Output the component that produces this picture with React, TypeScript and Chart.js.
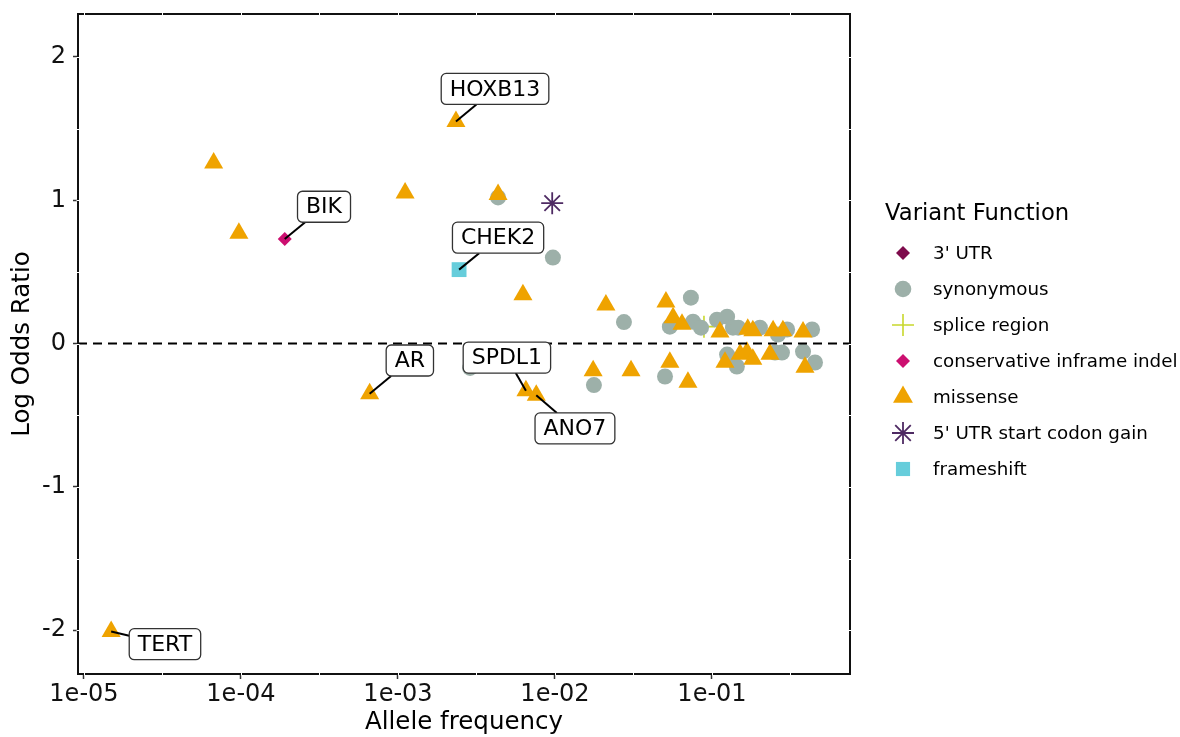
import React, { useEffect, useRef } from 'react';
import { Chart, registerables } from 'chart.js';

Chart.register(...registerables);

// ---------- data ----------
const x3UTR: number[] = [];
const y3UTR: number[] = [];

const xSynonymous = [2.88e-3, 4.34e-3, 9.7e-3, 0.0177, 0.0275, 0.0502, 0.0539, 0.0734, 0.0757, 0.0851, 0.1076, 0.1248, 0.1248, 0.136, 0.144, 0.147, 0.202, 0.252, 0.263, 0.279, 0.301, 0.38, 0.434, 0.453];
const ySynonymous = [-0.17, 1.02, 0.6, -0.29, 0.15, -0.23, 0.118, 0.32, 0.153, 0.111, 0.167, 0.188, -0.077, 0.111, -0.16, 0.111, 0.111, -0.063, 0.063, -0.063, 0.098, -0.056, 0.098, -0.132];

const xSplice = [0.0889];
const ySplice = [0.118];

const xIndel = [1.9e-4];
const yIndel = [0.73];

const xMissense = [1.49e-5, 6.7e-5, 9.7e-5, 6.6e-4, 1.11e-3, 2.34e-3, 4.34e-3, 6.25e-3, 6.53e-3, 7.6e-3, 0.0175, 0.0211, 0.0305, 0.0509, 0.0539, 0.0565, 0.0644, 0.0703, 0.1124, 0.121, 0.151, 0.167, 0.169, 0.182, 0.182, 0.234, 0.245, 0.283, 0.38, 0.391];
const yMissense = [-2.01, 1.26, 0.77, -0.35, 1.05, 1.55, 1.04, 0.34, -0.33, -0.36, -0.19, 0.27, -0.19, 0.29, -0.13, 0.18, 0.135, -0.27, 0.08, -0.13, -0.075, -0.06, 0.1, 0.09, -0.11, -0.075, 0.09, 0.09, 0.08, -0.165];

const xStartGain = [9.6e-3];
const yStartGain = [0.98];

const xFrameshift = [2.45e-3];
const yFrameshift = [0.516];

const seriesNames = ["3' UTR", 'synonymous', 'splice region', 'conservative inframe indel', 'missense', "5' UTR start codon gain", 'frameshift'];

const labelGenes = ['HOXB13', 'BIK', 'CHEK2', 'AR', 'SPDL1', 'ANO7', 'TERT'];
const labelPointX = [2.34e-3, 1.9e-4, 2.45e-3, 6.6e-4, 6.53e-3, 7.6e-3, 1.49e-5];
const labelPointY = [1.55, 0.73, 0.516, -0.35, -0.33, -0.36, -2.01];
const labelBoxX = [4.15e-3, 3.38e-4, 4.34e-3, 1.19e-3, 4.94e-3, 0.0134, 3.28e-5];
const labelBoxY = [1.777, 0.955, 0.739, -0.118, -0.098, -0.592, -2.098];

const xTickValues = [1e-5, 1e-4, 1e-3, 1e-2, 1e-1];
const yTickValues = [-2, -1, 0, 1, 2];

// ---------- styles ----------
const FONT = 'DejaVu Sans';
const COLORS = {
  utr3: '#7E0B4C',
  syn: '#9DB0A9',
  splice: '#C8D82C',
  indel: '#CC0F70',
  missense: '#EFA300',
  startGain: '#4E2A63',
  frameshift: '#66CDDB',
};

type Marker = { style: string; r: number; fill: string; stroke: string; lw: number };
const legendMarkers: Marker[] = [
  { style: 'rectRot', r: 7, fill: COLORS.utr3, stroke: COLORS.utr3, lw: 0 },
  { style: 'circle', r: 8.3, fill: COLORS.syn, stroke: COLORS.syn, lw: 0 },
  { style: 'cross', r: 11, fill: COLORS.splice, stroke: COLORS.splice, lw: 1.6 },
  { style: 'rectRot', r: 7, fill: COLORS.indel, stroke: COLORS.indel, lw: 0 },
  { style: 'triangle', r: 11.5, fill: COLORS.missense, stroke: COLORS.missense, lw: 0 },
  { style: 'star', r: 11, fill: COLORS.startGain, stroke: COLORS.startGain, lw: 1.8 },
  { style: 'rect', r: 10, fill: COLORS.frameshift, stroke: COLORS.frameshift, lw: 0 },
];

function drawMarker(ctx: CanvasRenderingContext2D, m: Marker, x: number, y: number) {
  ctx.save();
  ctx.fillStyle = m.fill;
  ctx.strokeStyle = m.stroke;
  ctx.lineWidth = m.lw;
  ctx.beginPath();
  const r = m.r;
  switch (m.style) {
    case 'circle':
      ctx.arc(x, y, r, 0, Math.PI * 2);
      ctx.fill();
      break;
    case 'rectRot':
      ctx.moveTo(x, y - r);
      ctx.lineTo(x + r, y);
      ctx.lineTo(x, y + r);
      ctx.lineTo(x - r, y);
      ctx.closePath();
      ctx.fill();
      break;
    case 'rect': {
      const s = r * Math.SQRT1_2;
      ctx.rect(x - s, y - s, 2 * s, 2 * s);
      ctx.fill();
      break;
    }
    case 'triangle':
      for (let k = 0; k < 3; k++) {
        const a = -Math.PI / 2 + (k * 2 * Math.PI) / 3;
        const px = x + Math.cos(a) * r;
        const py = y + Math.sin(a) * r;
        if (k === 0) ctx.moveTo(px, py);
        else ctx.lineTo(px, py);
      }
      ctx.closePath();
      ctx.fill();
      break;
    case 'cross':
      ctx.moveTo(x - r, y);
      ctx.lineTo(x + r, y);
      ctx.moveTo(x, y - r);
      ctx.lineTo(x, y + r);
      ctx.stroke();
      break;
    case 'star': {
      ctx.moveTo(x - r, y);
      ctx.lineTo(x + r, y);
      ctx.moveTo(x, y - r);
      ctx.lineTo(x, y + r);
      const d = r * Math.SQRT1_2;
      ctx.moveTo(x - d, y - d);
      ctx.lineTo(x + d, y + d);
      ctx.moveTo(x - d, y + d);
      ctx.lineTo(x + d, y - d);
      ctx.stroke();
      break;
    }
  }
  ctx.restore();
}

const toPts = (xs: number[], ys: number[]) => xs.map((x, i) => ({ x, y: ys[i] }));

const fmtExp = (v: number) => {
  const e = Math.round(Math.log10(v));
  const abs = Math.abs(e);
  return '1e' + (e < 0 ? '-' : '+') + String(abs).padStart(2, '0');
};

const decorPlugin = {
  id: 'decor',
  afterDatasetsDraw(chart: any) {
    const { ctx, chartArea, scales } = chart;
    const { left, right } = chartArea;
    const xs = scales.x;
    const ys = scales.y;
    // zero reference line
    ctx.save();
    ctx.strokeStyle = '#000';
    ctx.lineWidth = 2;
    ctx.setLineDash([9, 6]);
    const y0 = ys.getPixelForValue(0);
    ctx.beginPath();
    ctx.moveTo(left, y0);
    ctx.lineTo(right, y0);
    ctx.stroke();
    ctx.restore();

    // gene labels
    ctx.save();
    ctx.font = `22px "${FONT}"`;
    for (let i = 0; i < labelGenes.length; i++) {
      const px = xs.getPixelForValue(labelPointX[i]);
      const py = ys.getPixelForValue(labelPointY[i]);
      const bx = xs.getPixelForValue(labelBoxX[i]);
      const by = ys.getPixelForValue(labelBoxY[i]);
      const tw = ctx.measureText(labelGenes[i]).width;
      const hw = tw / 2 + 8.5;
      const hh = 15.5;
      const dx = px - bx;
      const dy = py - by;
      const t = Math.min(dx !== 0 ? hw / Math.abs(dx) : Infinity, dy !== 0 ? hh / Math.abs(dy) : Infinity);
      if (t < 1) {
        ctx.beginPath();
        ctx.strokeStyle = '#000';
        ctx.lineWidth = 2;
        ctx.moveTo(px, py);
        ctx.lineTo(bx + dx * t, by + dy * t);
        ctx.stroke();
      }
      ctx.beginPath();
      ctx.fillStyle = '#fff';
      ctx.strokeStyle = '#333';
      ctx.lineWidth = 1.3;
      (ctx as any).roundRect(bx - hw, by - hh, hw * 2, hh * 2, 5);
      ctx.fill();
      ctx.stroke();
      ctx.fillStyle = '#000';
      ctx.textAlign = 'center';
      ctx.textBaseline = 'middle';
      ctx.fillText(labelGenes[i], bx, by + 1);
    }
    ctx.restore();
  },
  afterDraw(chart: any) {
    const { ctx, chartArea, scales } = chart;
    const { left, right, top, bottom } = chartArea;
    const xs = scales.x;
    const ys = scales.y;
    ctx.save();
    // panel border
    ctx.strokeStyle = '#111';
    ctx.lineWidth = 2;
    ctx.strokeRect(left, top, right - left, bottom - top);
    // white notches at half steps
    ctx.strokeStyle = '#fff';
    ctx.lineWidth = 1;
    const lo = Math.log10(xs.min);
    const hi = Math.log10(xs.max);
    for (let e = Math.ceil(lo * 2) / 2; e <= hi; e += 0.5) {
      const px = Math.round(xs.getPixelForValue(Math.pow(10, e))) + 0.5;
      ctx.beginPath();
      ctx.moveTo(px, top - 1.5);
      ctx.lineTo(px, top + 1.5);
      ctx.moveTo(px, bottom - 1.5);
      ctx.lineTo(px, bottom + 1.5);
      ctx.stroke();
    }
    for (let v = Math.ceil(ys.min * 2) / 2; v <= ys.max; v += 0.5) {
      const py = Math.round(ys.getPixelForValue(v)) + 0.5;
      ctx.beginPath();
      ctx.moveTo(left - 1.5, py);
      ctx.lineTo(left + 1.5, py);
      ctx.moveTo(right - 1.5, py);
      ctx.lineTo(right + 1.5, py);
      ctx.stroke();
    }
    // legend
    const lx = right + 35;
    ctx.fillStyle = '#000';
    ctx.textAlign = 'left';
    ctx.textBaseline = 'middle';
    ctx.font = `22.7px "${FONT}"`;
    ctx.fillText('Variant Function', lx, 214);
    ctx.font = `18.3px "${FONT}"`;
    for (let i = 0; i < seriesNames.length; i++) {
      const iy = 253 + 36 * i;
      drawMarker(ctx, legendMarkers[i], right + 53, iy);
      ctx.fillStyle = '#000';
      ctx.fillText(seriesNames[i], right + 83, iy + 1);
    }
    ctx.restore();
  },
};

export default function App() {
  const ref = useRef<HTMLCanvasElement | null>(null);

  useEffect(() => {
    document.body.style.margin = '0';
    const canvas = ref.current;
    if (!canvas) return;
    const tickFont = { family: FONT, size: 24 };
    const titleFont = { family: FONT, size: 24.5 };
    const chart = new Chart(canvas, {
      type: 'scatter',
      data: {
        datasets: [
          { label: seriesNames[0], data: toPts(x3UTR, y3UTR), pointStyle: 'rectRot', pointRadius: 7, backgroundColor: COLORS.utr3, borderColor: COLORS.utr3, borderWidth: 0, order: 0 },
          { label: seriesNames[1], data: toPts(xSynonymous, ySynonymous), pointStyle: 'circle', pointRadius: 8, backgroundColor: COLORS.syn, borderColor: COLORS.syn, borderWidth: 0, order: 2 },
          { label: seriesNames[2], data: toPts(xSplice, ySplice), pointStyle: 'cross', pointRadius: 11, backgroundColor: COLORS.splice, borderColor: COLORS.splice, borderWidth: 1.6, order: 3 },
          { label: seriesNames[3], data: toPts(xIndel, yIndel), pointStyle: 'rectRot', pointRadius: 7, backgroundColor: COLORS.indel, borderColor: COLORS.indel, borderWidth: 0, order: 0 },
          { label: seriesNames[4], data: toPts(xMissense, yMissense), pointStyle: 'triangle', pointRadius: 11, backgroundColor: COLORS.missense, borderColor: COLORS.missense, borderWidth: 0, order: 1 },
          { label: seriesNames[5], data: toPts(xStartGain, yStartGain), pointStyle: 'star', pointRadius: 11, backgroundColor: COLORS.startGain, borderColor: COLORS.startGain, borderWidth: 1.8, order: 0 },
          { label: seriesNames[6], data: toPts(xFrameshift, yFrameshift), pointStyle: 'rect', pointRadius: 10.5, backgroundColor: COLORS.frameshift, borderColor: COLORS.frameshift, borderWidth: 0, order: 0 },
        ] as any,
      },
      options: {
        animation: false,
        responsive: false,
        events: [],
        layout: { padding: { top: 14, right: 330, bottom: 0, left: 0 } },
        plugins: { legend: { display: false }, tooltip: { enabled: false } },
        scales: {
          x: {
            type: 'logarithmic',
            min: Math.pow(10, -5.038),
            max: Math.pow(10, -0.121),
            afterBuildTicks: (s: any) => {
              s.ticks = xTickValues.map((v) => ({ value: v }));
            },
            afterFit: (s: any) => {
              s.height = 63;
              s.paddingLeft = 0;
              s.paddingRight = 0;
            },
            ticks: {
              callback: (v: any) => fmtExp(Number(v)),
              font: tickFont,
              color: '#111',
              padding: 1,
              maxRotation: 0,
              autoSkip: false,
            },
            grid: { drawOnChartArea: false, drawTicks: true, tickLength: 5, tickColor: '#333', tickWidth: 1.5 },
            border: { display: false },
            title: { display: true, text: 'Allele frequency', font: titleFont, color: '#000', padding: { top: 0, bottom: 0 } },
          },
          y: {
            type: 'linear',
            min: -2.306,
            max: 2.3,
            afterBuildTicks: (s: any) => {
              s.ticks = yTickValues.map((v) => ({ value: v }));
            },
            afterFit: (s: any) => {
              s.width = 78;
              s.paddingTop = 0;
              s.paddingBottom = 0;
            },
            ticks: {
              callback: (v: any) => String(v),
              font: tickFont,
              color: '#111',
              padding: 7,
            },
            grid: { drawOnChartArea: false, drawTicks: true, tickLength: 5, tickColor: '#333', tickWidth: 1.5 },
            border: { display: false },
            title: { display: true, text: 'Log Odds Ratio', font: titleFont, color: '#000', padding: { top: 8, bottom: 0 } },
          },
        },
      } as any,
      plugins: [decorPlugin],
    });
    return () => chart.destroy();
  }, []);

  return (
    <div style={{ width: 1180, height: 737, background: '#fff' }}>
      <canvas ref={ref} width={1180} height={737} style={{ display: 'block' }} />
    </div>
  );
}
